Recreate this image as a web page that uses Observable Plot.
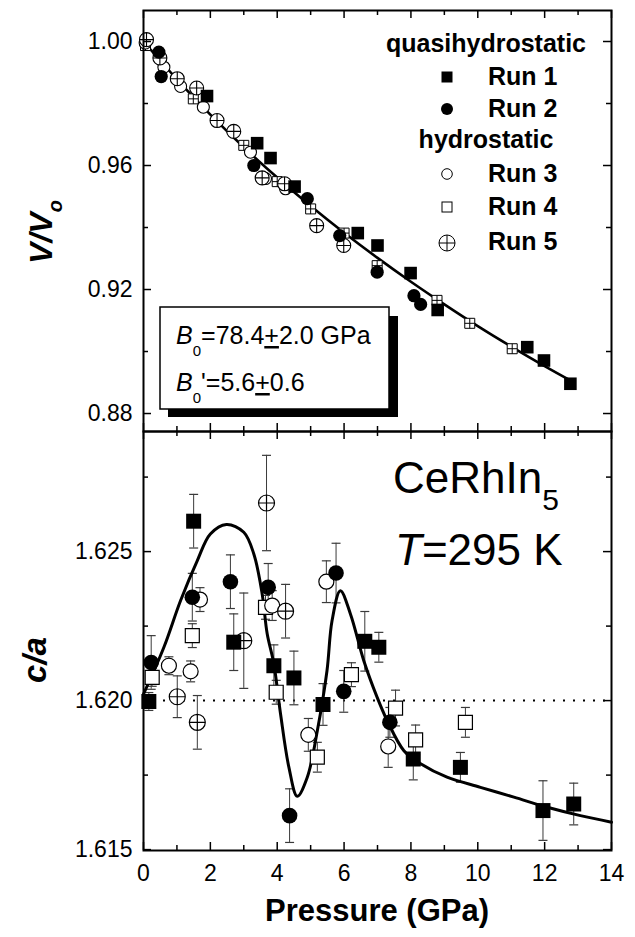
<!DOCTYPE html>
<html><head><meta charset="utf-8">
<script src="https://cdn.jsdelivr.net/npm/d3@7"></script>
<script src="https://cdn.jsdelivr.net/npm/@observablehq/plot@0.6"></script>
<style>
body{margin:0;background:#fff;}
#wrap{position:relative;width:635px;height:937px;font-family:"Liberation Sans",Arial,sans-serif;}
#wrap svg{position:absolute;left:0;}
</style></head><body><div id="wrap"></div>
<script>
// ---------- axis / tick data ----------
const xDomain = [0, 14];
const xMajor = [0, 2, 4, 6, 8, 10, 12, 14];
const xMinor = [1, 3, 5, 7, 9, 11, 13];
const vDomain = [0.8742, 1.0100];
const vMajor = [0.88, 0.92, 0.96, 1.00];
const vMinor = [0.90, 0.94, 0.98];
const caDomain = [1.61497, 1.62903];
const caMajor = [1.615, 1.620, 1.625];
const caMinor = [1.6175, 1.6225, 1.6275];
const caRef = [1.620];

// ---------- top panel: V/V0 ----------
const r1P = [1.90, 3.40, 3.80, 4.52, 6.41, 7.00, 7.99, 8.80, 11.48, 11.98, 12.77];
const r1V = [0.9824, 0.9672, 0.9624, 0.9532, 0.9382, 0.9342, 0.9253, 0.9134, 0.9014, 0.8971, 0.8896];
const r2P = [0.46, 0.53, 3.30, 4.90, 5.87, 6.99, 8.09, 8.29];
const r2V = [0.9966, 0.9887, 0.9600, 0.9493, 0.9374, 0.9256, 0.9180, 0.9152];
const r3P = [0.05, 0.61, 1.11, 1.79, 3.20, 3.65, 4.25];
const r3V = [0.9995, 0.9917, 0.9855, 0.9788, 0.9643, 0.9558, 0.9525];
const r4P = [0.06, 1.49, 3.00, 4.00, 5.00, 6.00, 6.99, 8.78, 9.76, 11.03];
const r4V = [0.9987, 0.9815, 0.9665, 0.9548, 0.9460, 0.9382, 0.9277, 0.9165, 0.9091, 0.9009];
const r5P = [0.09, 0.49, 1.01, 1.59, 2.20, 2.70, 3.55, 4.22, 5.18, 5.99];
const r5V = [1.0006, 0.9947, 0.9880, 0.9850, 0.9745, 0.9710, 0.9560, 0.9541, 0.9406, 0.9342];
const fitVP = [0, 1, 2, 3, 4, 5, 6, 7, 8, 9, 10, 11, 12, 12.8];
const fitV  = [1.000, 0.9878, 0.9764, 0.9659, 0.9561, 0.9469, 0.9383, 0.9302, 0.9225, 0.9152, 0.9082, 0.9016, 0.8953, 0.8905];

// ---------- bottom panel: c/a ----------
const c1P = [0.16, 1.50, 2.70, 3.90, 4.50, 5.37, 6.62, 7.04, 8.07, 9.48, 11.95, 12.87];
const c1C = [1.61997, 1.62602, 1.62196, 1.62117, 1.62076, 1.61987, 1.62199, 1.62179, 1.61804, 1.61776, 1.61631, 1.61653];
const c1E = [0.0003, 0.0009, 0.00095, 0.0007, 0.0009, 0.0007, 0.0010, 0.0005, 0.0007, 0.0005, 0.0010, 0.0007];
const c2P = [0.23, 1.46, 2.60, 3.73, 4.37, 5.76, 5.99, 7.37];
const c2C = [1.62128, 1.62347, 1.62399, 1.62380, 1.61614, 1.62428, 1.62031, 1.61927];
const c2E = [0.0009, 0.0008, 0.0009, 0.0008, 0.0009, 0.0010, 0.0007, 0.0005];
const c3P = [0.76, 1.41, 1.69, 3.85, 4.93, 5.47, 7.32];
const c3C = [1.62117, 1.62098, 1.62339, 1.62319, 1.61885, 1.62399, 1.61846];
const c3E = [0.0003, 0.00035, 0.0004, 0.0005, 0.00055, 0.0007, 0.0007];
const c4P = [0.26, 1.46, 3.65, 3.97, 5.20, 6.22, 7.54, 8.14, 9.63];
const c4C = [1.62078, 1.62218, 1.62313, 1.62028, 1.61810, 1.62087, 1.61975, 1.61868, 1.61927];
const c4E = [0.0003, 0.0004, 0.0004, 0.0004, 0.0005, 0.0004, 0.0006, 0.0005, 0.0005];
const c5P = [1.01, 1.61, 3.00, 3.68, 4.25];
const c5C = [1.62013, 1.61927, 1.62201, 1.62663, 1.62300];
const c5E = [0.0007, 0.0009, 0.0016, 0.0016, 0.0009];
const fitCP = [0, 0.61, 1.11, 1.61, 2.0, 2.48, 3.0, 3.3, 3.55, 3.70, 3.9, 4.1, 4.35, 4.6, 4.9, 5.2, 5.49, 5.64, 5.89, 6.19, 6.59, 6.99, 7.29, 7.79, 8.29, 9.08, 10.08, 11.08, 12.08, 13.07, 14.0];
const fitC  = [1.62022, 1.62179, 1.62336, 1.62470, 1.62559, 1.62591, 1.62565, 1.62492, 1.62358, 1.62224, 1.62123, 1.61955, 1.61776, 1.61679, 1.61743, 1.61899, 1.62101, 1.62268, 1.62369, 1.62291, 1.62134, 1.62011, 1.61933, 1.61832, 1.61788, 1.61743, 1.61709, 1.61676, 1.61642, 1.61614, 1.61592];

// legend
const legendGroups = ["quasihydrostatic", "hydrostatic"];
const runNames = ["Run 1", "Run 2", "Run 3", "Run 4", "Run 5"];

// ---------- helpers ----------
const zipV = (P, V) => P.map((p, i) => ({p, v: V[i]}));
const zipC = (P, C, E) => P.map((p, i) => ({p, c: C[i], e: E[i]}));

const circlePlus = {draw(ctx, size){const r=Math.sqrt(size/Math.PI); ctx.moveTo(r,0); ctx.arc(0,0,r,0,2*Math.PI); ctx.moveTo(-r,0); ctx.lineTo(r,0); ctx.moveTo(0,-r); ctx.lineTo(0,r);}};
const squarePlus = {draw(ctx, size){const h=Math.sqrt(size/Math.PI); ctx.moveTo(-h,-h); ctx.lineTo(h,-h); ctx.lineTo(h,h); ctx.lineTo(-h,h); ctx.closePath(); ctx.moveTo(-h,0); ctx.lineTo(h,0); ctx.moveTo(0,-h); ctx.lineTo(0,h);}};
const sq = {draw(ctx, size){const h=Math.sqrt(size/Math.PI); ctx.moveTo(-h,-h); ctx.lineTo(h,-h); ctx.lineTo(h,h); ctx.lineTo(-h,h); ctx.closePath();}};
const cap = {draw(ctx, size){ctx.moveTo(-4.5,0); ctx.lineTo(4.5,0);}};

const W = 635, ML = 143, MR = 24, FW = W - ML - MR;
const topH = 431, topMT = 10, FHt = topH - topMT;
const botH = 506, botMB = 87, FHb = botH - botMB;

function tickMarks(FH, yMaj, yMin) {
  const o = {strokeWidth: 1.5};
  return [
    Plot.tickY(yMaj, {y: d => d, insetRight: FW - 8, ...o}),
    Plot.tickY(yMaj, {y: d => d, insetLeft: FW - 8, ...o}),
    Plot.tickY(yMin, {y: d => d, insetRight: FW - 5, ...o}),
    Plot.tickY(yMin, {y: d => d, insetLeft: FW - 5, ...o}),
    Plot.tickX(xMajor, {x: d => d, insetBottom: FH - 8, ...o}),
    Plot.tickX(xMajor, {x: d => d, insetTop: FH - 8, ...o}),
    Plot.tickX(xMinor, {x: d => d, insetBottom: FH - 5, ...o}),
    Plot.tickX(xMinor, {x: d => d, insetTop: FH - 5, ...o})
  ];
}
const style = {fontFamily: "Liberation Sans, Arial, sans-serif", fontSize: "23px", color: "black", background: "transparent", overflow: "visible"};

const topPlot = Plot.plot({
  width: W, height: topH, marginTop: topMT, marginBottom: 0, marginLeft: ML, marginRight: MR,
  style,
  x: {domain: xDomain, axis: null},
  y: {domain: vDomain},
  marks: [
    Plot.line(zipV(fitVP, fitV), {x: "p", y: "v", curve: "natural", strokeWidth: 2.6}),
    Plot.dot(zipV(r4P, r4V), {x: "p", y: "v", symbol: squarePlus, r: 5, fill: "white", stroke: "black", strokeWidth: 1}),
    Plot.dot(zipV(r3P, r3V), {x: "p", y: "v", r: 6, fill: "white", stroke: "black", strokeWidth: 1.1}),
    Plot.dot(zipV(r5P, r5V), {x: "p", y: "v", symbol: circlePlus, r: 7, fill: "white", stroke: "black", strokeWidth: 1.1}),
    Plot.dot(zipV(r1P, r1V), {x: "p", y: "v", symbol: sq, r: 6.3, fill: "black", stroke: "none"}),
    Plot.dot(zipV(r2P, r2V), {x: "p", y: "v", r: 6.6, fill: "black", stroke: "none"}),
    ...tickMarks(FHt, vMajor, vMinor),
    Plot.axisY({ticks: vMajor, tickSize: 0, tickPadding: 11, tickFormat: d3.format(".2f"), label: null}),
    Plot.frame({strokeWidth: 2})
  ]
});

const runsC = [zipC(c1P, c1C, c1E), zipC(c2P, c2C, c2E), zipC(c3P, c3C, c3E), zipC(c4P, c4C, c4E), zipC(c5P, c5C, c5E)];
const allC = runsC.flat();
const ebColor = "#3a3a3a";

const botPlot = Plot.plot({
  width: W, height: botH, marginTop: 0, marginBottom: botMB, marginLeft: ML, marginRight: MR,
  style,
  x: {domain: xDomain},
  y: {domain: caDomain},
  marks: [
    Plot.ruleY(caRef, {strokeDasharray: "2,8", strokeWidth: 2}),
    Plot.ruleX(allC, {x: "p", y1: d => d.c - d.e, y2: d => d.c + d.e, stroke: ebColor, strokeWidth: 1}),
    Plot.dot(allC, {x: "p", y: d => d.c + d.e, symbol: cap, r: 4, stroke: ebColor, strokeWidth: 1.2, fill: "none"}),
    Plot.dot(allC, {x: "p", y: d => d.c - d.e, symbol: cap, r: 4, stroke: ebColor, strokeWidth: 1.2, fill: "none"}),
    Plot.line(fitCP.map((p, i) => ({p, c: fitC[i]})), {x: "p", y: "c", curve: "catmull-rom", strokeWidth: 3}),
    Plot.dot(runsC[3], {x: "p", y: "c", symbol: sq, r: 7, fill: "white", stroke: "black", strokeWidth: 1.2}),
    Plot.dot(runsC[2], {x: "p", y: "c", r: 7.5, fill: "white", stroke: "black", strokeWidth: 1.2}),
    Plot.dot(runsC[4], {x: "p", y: "c", symbol: circlePlus, r: 8, fill: "white", stroke: "black", strokeWidth: 1.2}),
    Plot.dot(runsC[0], {x: "p", y: "c", symbol: sq, r: 7.5, fill: "black", stroke: "none"}),
    Plot.dot(runsC[1], {x: "p", y: "c", r: 7.8, fill: "black", stroke: "none"}),
    ...tickMarks(FHb, caMajor, caMinor),
    Plot.axisY({ticks: caMajor, tickSize: 0, tickPadding: 11, tickFormat: d3.format(".3f"), label: null}),
    Plot.axisX({ticks: xMajor, tickSize: 0, tickPadding: 14, tickFormat: d => String(d), label: null}),
    Plot.frame({strokeWidth: 2})
  ]
});

const wrap = document.getElementById("wrap");
topPlot.style.top = "0px";
botPlot.style.top = topH + "px";
wrap.appendChild(topPlot);
wrap.appendChild(botPlot);

// ---------- annotations overlay ----------
const ns = "http://www.w3.org/2000/svg";
const ov = document.createElementNS(ns, "svg");
ov.setAttribute("width", 635); ov.setAttribute("height", 937);
ov.style.top = "0px";
ov.setAttribute("font-family", "Liberation Sans, Arial, sans-serif");
const legY = [77, 109, 174, 207, 243];
const legTxtY = [85, 117, 182, 215, 250];
const legSym = [
  `<rect x="-5.5" y="-5.5" width="11" height="11" fill="black"/>`,
  `<circle r="6" fill="black"/>`,
  `<circle r="5.3" fill="white" stroke="black" stroke-width="1"/>`,
  `<rect x="-5" y="-5" width="10" height="10" fill="white" stroke="black" stroke-width="1"/>`,
  `<circle r="8" fill="white" stroke="black" stroke-width="1"/><path d="M-8,0H8M0,-8V8" stroke="black" stroke-width="1"/>`
];
let legend = `<text x="486" y="52" text-anchor="middle" font-size="25" font-weight="bold">${legendGroups[0]}</text>` +
             `<text x="486" y="148" text-anchor="middle" font-size="25" font-weight="bold">${legendGroups[1]}</text>`;
runNames.forEach((n, i) => {
  legend += `<g transform="translate(447,${legY[i]})">${legSym[i]}</g>`;
  legend += `<text x="488" y="${legTxtY[i]}" font-size="25" font-weight="bold">${n}</text>`;
});
ov.innerHTML = `
 <text transform="translate(52,232) rotate(-90)" text-anchor="middle" font-size="32" font-weight="bold" font-style="italic">V/V<tspan font-size="20" dy="10">o</tspan></text>
 <text transform="translate(46,660) rotate(-90)" text-anchor="middle" font-size="33" font-weight="bold" font-style="italic">c/a</text>
 <text x="377" y="921" text-anchor="middle" font-size="31" font-weight="bold">Pressure (GPa)</text>
 ${legend}
 <rect x="168" y="316" width="230" height="101" fill="black"/>
 <rect x="160" y="307" width="229" height="102" fill="white" stroke="black" stroke-width="1.5"/>
 <text x="176" y="344" font-size="25"><tspan font-style="italic">B</tspan><tspan font-size="15" dy="12">0</tspan><tspan dy="-12">=78.4</tspan><tspan text-decoration="underline">+</tspan><tspan>2.0 GPa</tspan></text>
 <text x="176" y="391" font-size="25"><tspan font-style="italic">B</tspan><tspan font-size="15" dy="12">0</tspan><tspan dy="-12">'=5.6</tspan><tspan text-decoration="underline">+</tspan><tspan>0.6</tspan></text>
 <text x="393" y="493" font-size="44">CeRhIn<tspan font-size="30" dy="17">5</tspan></text>
 <text x="395" y="565" font-size="44"><tspan font-style="italic">T</tspan>=295 K</text>
`;
wrap.appendChild(ov);
</script>
</body></html>
